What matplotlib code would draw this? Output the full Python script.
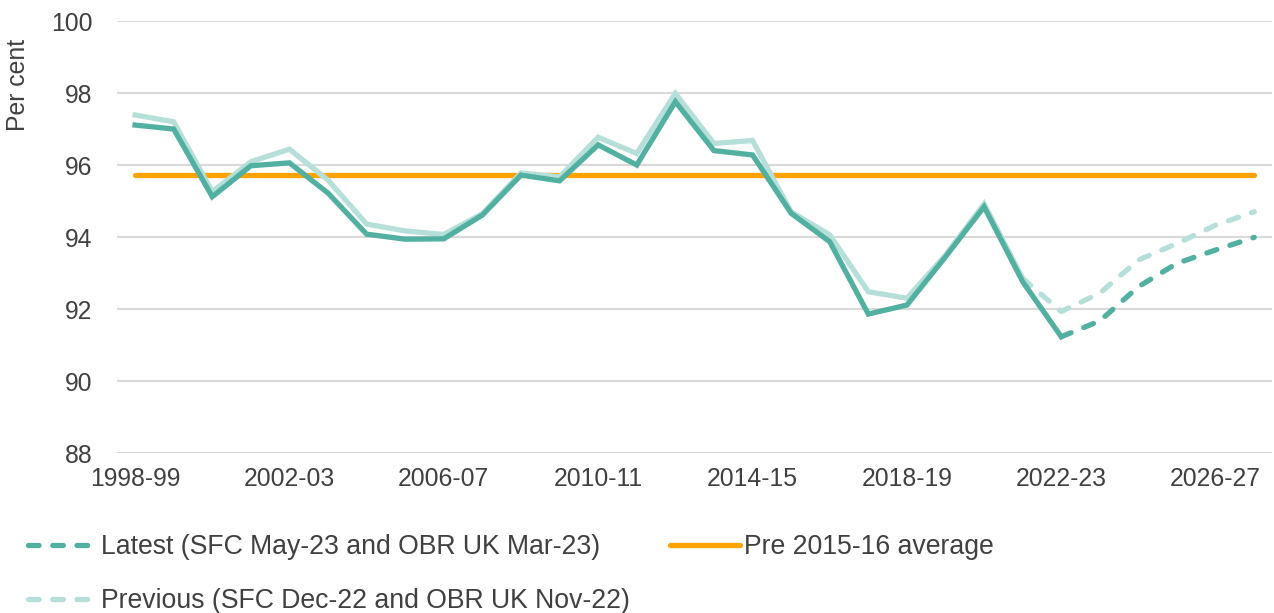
import matplotlib
matplotlib.use("Agg")
import matplotlib.pyplot as plt
import numpy as np

plt.rcParams['font.family'] = ['Liberation Sans', 'DejaVu Sans']

# Financial years 1998-99 .. 2027-28
years = [f"{y}-{str(y + 1)[-2:]}" for y in range(1998, 2028)]

# Latest (SFC May-23 and OBR UK Mar-23): outturn to 2022-23, forecast after
latest = [97.11, 97.00, 95.12, 95.98, 96.06, 95.22, 94.08, 93.94, 93.95, 94.61,
          95.72, 95.56, 96.56, 96.00, 97.76, 96.40, 96.28, 94.66, 93.87, 91.86,
          92.11, 93.45, 94.84, 92.76, 91.23, 91.67, 92.62, 93.27, 93.64, 93.99]
latest_last_outturn = 24

# Previous (SFC Dec-22 and OBR UK Nov-22): outturn to 2021-22, forecast after
previous = [97.39, 97.20, 95.26, 96.09, 96.44, 95.58, 94.36, 94.17, 94.07, 94.65,
            95.78, 95.67, 96.77, 96.32, 97.99, 96.60, 96.68, 94.70, 94.06, 92.48,
            92.30, 93.50, 94.92, 92.85, 91.93, 92.44, 93.36, 93.82, 94.33, 94.70]
previous_last_outturn = 23

pre_2015_average = 95.72

tick_labels = ["1998-99", "2002-03", "2006-07", "2010-11",
               "2014-15", "2018-19", "2022-23", "2026-27"]
y_ticks = [88, 90, 92, 94, 96, 98, 100]

dark = "#52b0a1"
light = "#b6dfd9"
orange = "#ffa300"
text_col = "#404040"
grid_col = "#d9d9d9"
lw = 3.8
dash = (2.0, 2.6)

x = np.arange(len(years))

fig = plt.figure(figsize=(12.74, 6.13), dpi=100)
ax = fig.add_axes([0.0918, 0.261, 0.9066, 0.7047])

ax.plot(x, [pre_2015_average] * len(x), color=orange, lw=lw,
        solid_capstyle='round', zorder=2, label="Pre 2015-16 average")

p = previous_last_outturn
ax.plot(x[:p + 1], previous[:p + 1], color=light, lw=lw,
        solid_joinstyle='miter', zorder=3)
ax.plot(x[p:], previous[p:], color=light, lw=lw, dashes=dash,
        dash_capstyle='round', zorder=3,
        label="Previous (SFC Dec-22 and OBR UK Nov-22)")

l = latest_last_outturn
ax.plot(x[:l + 1], latest[:l + 1], color=dark, lw=lw,
        solid_joinstyle='miter', zorder=4)
ax.plot(x[l:], latest[l:], color=dark, lw=lw, dashes=dash,
        dash_capstyle='round', zorder=4,
        label="Latest (SFC May-23 and OBR UK Mar-23)")

ax.set_xlim(-0.47, 29.46)
ax.set_ylim(88, 100)
ax.set_yticks(y_ticks)
ax.set_xticks([years.index(t) for t in tick_labels])
ax.set_xticklabels(tick_labels)
ax.grid(axis='y', color=grid_col, lw=1.5, zorder=0)
ax.set_axisbelow(True)
for s in ax.spines.values():
    s.set_visible(False)
ax.tick_params(axis='both', length=0, labelsize=17.8, labelcolor=text_col)
ax.tick_params(axis='y', pad=17.5)
ax.tick_params(axis='x', pad=10)

fig.text(18 / 1274, 1 - 85 / 613, "Per cent", rotation=90, ha='center',
         va='center', fontsize=17.8, color=text_col)

handles, labels = ax.get_legend_handles_labels()
order = [2, 1, 0]
leg = fig.legend([handles[i] for i in order], [labels[i] for i in order],
                 loc='upper left', bbox_to_anchor=(0.022, 0.129), ncol=2,
                 frameon=False, fontsize=19.2, handlelength=2.6,
                 handletextpad=0.15, columnspacing=1.5, labelspacing=1.05,
                 borderpad=0, borderaxespad=0)
for t in leg.get_texts():
    t.set_color(text_col)

fig.savefig("out.png", dpi=100)
